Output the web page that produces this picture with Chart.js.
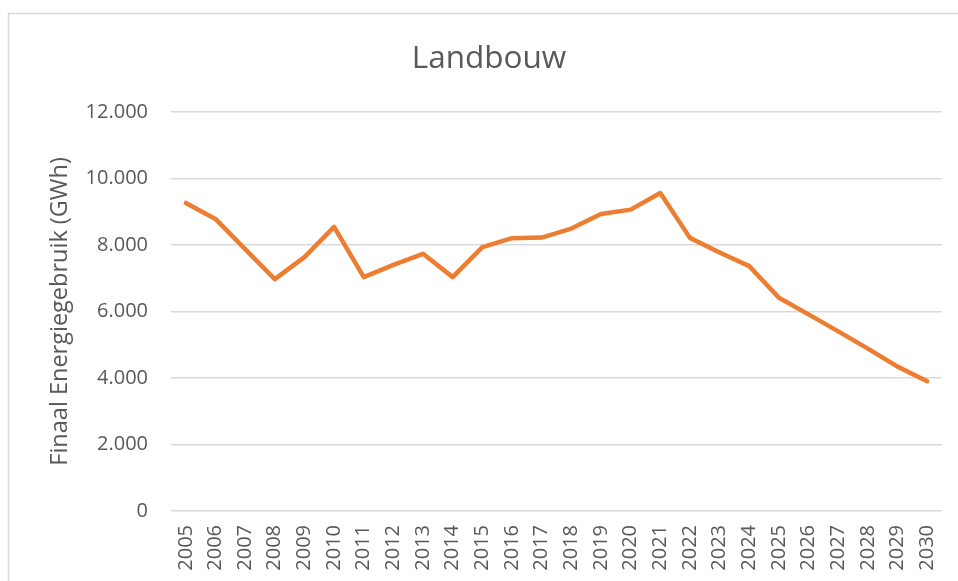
<!DOCTYPE html>
<html lang="nl">
<head>
<meta charset="utf-8">
<title>Landbouw</title>
<script src="https://cdn.jsdelivr.net/npm/chart.js@4/dist/chart.umd.min.js"></script>
<style>
  html, body { margin: 0; padding: 0; background: #ffffff; }
  #wrap { position: relative; width: 958px; height: 581px; }
</style>
</head>
<body>
<div id="wrap"><canvas id="chart" width="958" height="581"></canvas></div>
<script>
// Finaal energiegebruik landbouw, 2005-2030 (GWh)
const years = ['2005','2006','2007','2008','2009','2010','2011','2012','2013','2014','2015','2016','2017',
               '2018','2019','2020','2021','2022','2023','2024','2025','2026','2027','2028','2029','2030'];
const energy = [9260, 8780, 7870, 6970, 7630, 8540, 7030, 7400, 7730, 7030, 7930, 8200, 8220,
                8490, 8930, 9060, 9560, 8210, 7770, 7360, 6410, 5910, 5400, 4880, 4340, 3900];
const yMin = 0, yMax = 12000, yStep = 2000;

const chartTitle = 'Landbouw';
const yTitle = 'Finaal Energiegebruik (GWh)';

const textColor = '#595959';
const gridColor = '#d9d9d9';
const lineColor = '#ED7D31';
const fontFamily = '"Open Sans", "Noto Sans", sans-serif';

// thousands separated with a dot, Dutch style
function fmt(v) {
  return String(Math.round(v)).replace(/\B(?=(\d{3})+(?!\d))/g, '.');
}

// light frame around the chart object
const framePlugin = {
  id: 'frame',
  beforeDraw(chart) {
    const ctx = chart.ctx;
    ctx.save();
    ctx.strokeStyle = gridColor;
    ctx.lineWidth = 1.5;
    ctx.strokeRect(8.5, 13.5, 2000, 2000);
    ctx.restore();
  }
};

new Chart(document.getElementById('chart'), {
  type: 'line',
  data: {
    labels: years,
    datasets: [{
      data: energy,
      borderColor: lineColor,
      backgroundColor: lineColor,
      borderWidth: 4.5,
      borderCapStyle: 'round',
      borderJoinStyle: 'round',
      pointRadius: 0,
      tension: 0,
      fill: false
    }]
  },
  options: {
    responsive: false,
    animation: false,
    devicePixelRatio: 1,
    layout: { padding: { top: 22, right: 16, bottom: 0, left: 36 } },
    plugins: {
      legend: { display: false },
      tooltip: { enabled: false },
      title: {
        display: true,
        text: chartTitle,
        color: textColor,
        font: { family: fontFamily, size: 31.5, weight: 'normal' },
        padding: { top: 18, bottom: 34 }
      }
    },
    scales: {
      x: {
        type: 'category',
        offset: true,
        grid: { display: false, drawTicks: false },
        border: { display: false },
        ticks: {
          color: textColor,
          font: { family: fontFamily, size: 20 },
          minRotation: 90,
          maxRotation: 90,
          autoSkip: false,
          padding: 14
        },
        afterFit(scale) {
          scale.height = 70;
          scale.paddingLeft = 0;
          scale.paddingRight = 0;
        }
      },
      y: {
        min: yMin,
        max: yMax,
        grid: { color: gridColor, lineWidth: 1.5, drawTicks: false },
        border: { display: false },
        ticks: {
          stepSize: yStep,
          color: textColor,
          font: { family: fontFamily, size: 20 },
          padding: 23,
          callback: (v) => fmt(v)
        },
        title: {
          display: true,
          text: yTitle,
          color: textColor,
          font: { family: fontFamily, size: 23.5, weight: 'normal' },
          padding: { top: 10, bottom: 0 }
        },
        afterFit(scale) { scale.width = 135; }
      }
    }
  },
  plugins: [framePlugin]
});
</script>
</body>
</html>
